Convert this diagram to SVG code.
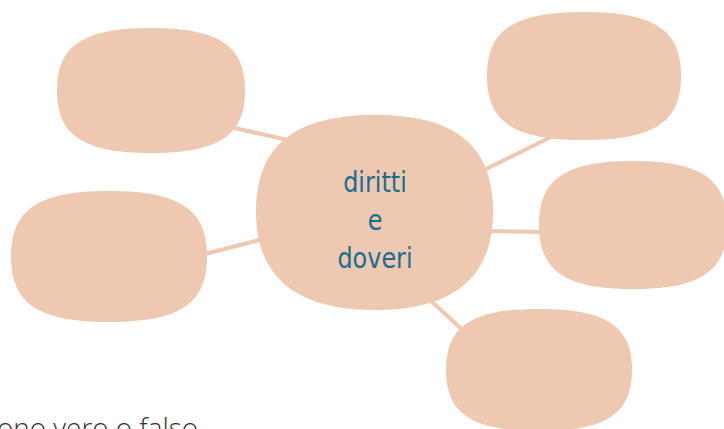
<svg xmlns="http://www.w3.org/2000/svg" xmlns:xlink="http://www.w3.org/1999/xlink" width="724" height="429" viewBox="0 0 724 429">
<style>
.blob{fill:#EEC8B1}
.conn{stroke:#EEC8B1;stroke-width:4;fill:none}
.lbl{font-family:"DejaVu Sans Condensed","DejaVu Sans",sans-serif;font-size:28px;fill:#1B6D90;text-anchor:middle}
.foot{font-family:"Open Sans","Lato",sans-serif;font-weight:300;font-size:27px;fill:#333333}
</style>
<defs>
<path id="sq" d="M0,-1 C0.72,-1 1,-0.72 1,0 C1,0.72 0.72,1 0,1 C-0.72,1 -1,0.72 -1,0 C-1,-0.72 -0.72,-1 0,-1Z"/>
</defs>
<rect width="724" height="429" fill="#ffffff"/>
<g id="connectors">
<line class="conn" x1="230" y1="127" x2="292" y2="141"/>
<line class="conn" x1="205" y1="254" x2="263" y2="239"/>
<line class="conn" x1="484" y1="170" x2="555" y2="135"/>
<line class="conn" x1="490" y1="231" x2="542" y2="232"/>
<line class="conn" x1="430" y1="300" x2="466" y2="333"/>
</g>
<g id="node-topleft"><use xlink:href="#sq" class="blob" transform="translate(151,90.5) scale(94,62.5)"/></g>
<g id="node-left"><use xlink:href="#sq" class="blob" transform="translate(109,256.5) scale(98,65.5)"/></g>
<g id="node-topright"><use xlink:href="#sq" class="blob" transform="translate(584,76) scale(97,64)"/></g>
<g id="node-right"><use xlink:href="#sq" class="blob" transform="translate(633,225) scale(94,64)"/></g>
<g id="node-bottomright"><use xlink:href="#sq" class="blob" transform="translate(539,370) scale(93,61)"/></g>
<g id="node-center">
<path class="blob" d="M375,115 C455,115 493,145 493,212 C493,280 450,310 375,310 C300,310 256,280 256,212 C256,145 295,115 375,115Z"/>
<g transform="translate(375,0) scale(0.95,1)">
<text class="lbl" x="0" y="192">diritti</text>
<text class="lbl" x="0" y="230">e</text>
<text class="lbl" x="0" y="268">doveri</text>
</g>
</g>
<text class="foot" x="-3" y="438" textLength="201" lengthAdjust="spacingAndGlyphs">ono vero o falso</text>
</svg>
